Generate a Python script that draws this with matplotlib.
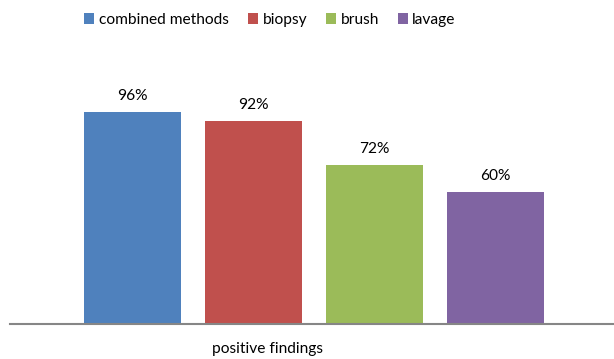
import matplotlib
matplotlib.use("Agg")
import matplotlib.pyplot as plt
from matplotlib.patches import Patch

plt.rcParams['font.family'] = ['Lato', 'DejaVu Sans']

methods = ["combined methods", "biopsy", "brush", "lavage"]
percent_positive = [96, 92, 72, 60]
colors = ["#4F81BD", "#C0504D", "#9BBB59", "#8064A2"]
category_label = "positive findings"

FS = 11.2
W, H = 614, 359
fig = plt.figure(figsize=(W / 100, H / 100), dpi=100)
ax = fig.add_axes([10 / W, (H - 324) / H, (W - 10) / W, 265 / H])

x = list(range(len(methods)))
bars = ax.bar(x, percent_positive, width=0.8, color=colors, zorder=2)
for xi, v in zip(x, percent_positive):
    ax.annotate(f"{v}%", (xi, v), xytext=(0, 9), textcoords="offset pixels",
                ha="center", va="bottom", fontsize=FS, color="#000000")

ax.set_xlim(-1.012, 3.98)
ax.set_ylim(0, 120)
for s in ["top", "right", "left"]:
    ax.spines[s].set_visible(False)
ax.spines["bottom"].set_color("#868686")
ax.spines["bottom"].set_linewidth(1.5)
ax.set_xticks([])
ax.set_yticks([])

fig.text(267 / W, 1 - 349 / H, category_label, ha="center", va="center", fontsize=FS)

handles = [Patch(facecolor=c, edgecolor="none") for c in colors]
fig.legend(handles, methods, loc="center", bbox_to_anchor=(270 / W, 1 - 20 / H),
           ncol=4, frameon=False, fontsize=FS, handlelength=0.65, handleheight=0.65,
           handletextpad=0.3, columnspacing=1.2, borderpad=0)

fig.savefig("out.png", dpi=100)
